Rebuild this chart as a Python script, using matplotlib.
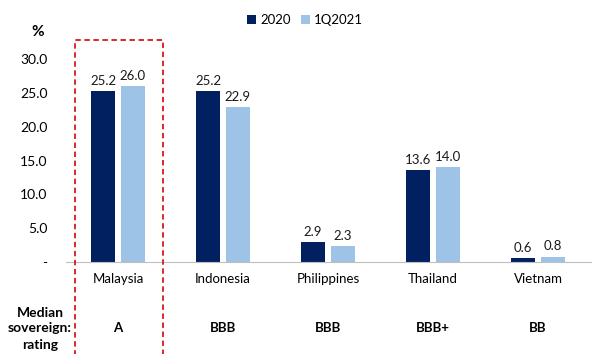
import matplotlib.pyplot as plt
import numpy as np
from matplotlib.patches import Rectangle

plt.rcParams['font.family'] = ['Lato', 'DejaVu Sans']

countries = ['Malaysia', 'Indonesia', 'Philippines', 'Thailand', 'Vietnam']
vals_2020 = [25.2, 25.2, 2.9, 13.6, 0.6]
vals_1q2021 = [26.0, 22.9, 2.3, 14.0, 0.8]
ratings = ['A', 'BBB', 'BBB', 'BBB+', 'BB']
yticks = [0, 5, 10, 15, 20, 25, 30]
ytick_labels = ['-', '5.0', '10.0', '15.0', '20.0', '25.0', '30.0']

dark = '#002060'
light = '#9DC3E6'

W, H = 592, 354
fig = plt.figure(figsize=(W / 100, H / 100), dpi=100)
ax = fig.add_axes([65.5 / W, 1 - 262 / H, 525 / W, 203 / H])

x = np.arange(len(countries))
bw = 0.23
b1 = ax.bar(x - 0.142, vals_2020, bw, color=dark, label='2020')
b2 = ax.bar(x + 0.142, vals_1q2021, bw, color=light, label='1Q2021')

for bars in (b1, b2):
    for b in bars:
        h = b.get_height()
        ax.annotate(f'{h:.1f}', (b.get_x() + b.get_width() / 2, h),
                    xytext=(0, 3), textcoords='offset points',
                    ha='center', va='bottom', fontsize=9.5, color='#1a1a1a')

ax.set_xlim(-0.5, 4.5)
ax.set_ylim(0, 30)
ax.set_yticks(yticks)
ax.set_yticklabels(ytick_labels, fontsize=10)
ax.set_xticks(x)
ax.set_xticklabels(countries, fontsize=9.5)
ax.tick_params(length=0)
ax.tick_params(axis='y', pad=13)
ax.tick_params(axis='x', pad=8)
for s in ['top', 'right', 'left']:
    ax.spines[s].set_visible(False)
ax.spines['bottom'].set_color('#bfbfbf')

# ratings row
for i, r in enumerate(ratings):
    fig.text((65.5 + 105 * (i + 0.5)) / W, 1 - 328 / H, r, ha='center',
             va='center', fontsize=9.5, fontweight='bold')
for yy, t in [(313, 'Median'), (328, 'sovereign:'), (345, 'rating')]:
    fig.text(40 / W, 1 - yy / H, t, ha='center', va='center',
             fontsize=10, fontweight='bold')

fig.text(38 / W, 1 - 32 / H, '%', ha='center', va='center',
         fontsize=11, fontweight='bold')

# highlight box
rect = Rectangle((75 / W, -0.02), 88 / W, 1 - 40 / H + 0.02,
                 transform=fig.transFigure, fill=False,
                 edgecolor='#d7191c', linestyle=(0, (3, 2)), linewidth=1.3)
fig.patches.append(rect)

fig.legend(handles=[b1, b2], loc='center', bbox_to_anchor=(305 / W, 1 - 20 / H),
           ncol=2, frameon=False, fontsize=9.5, handlelength=0.7,
           handleheight=0.7, handletextpad=0.3, columnspacing=0.8)

fig.savefig('out.png', dpi=100)
